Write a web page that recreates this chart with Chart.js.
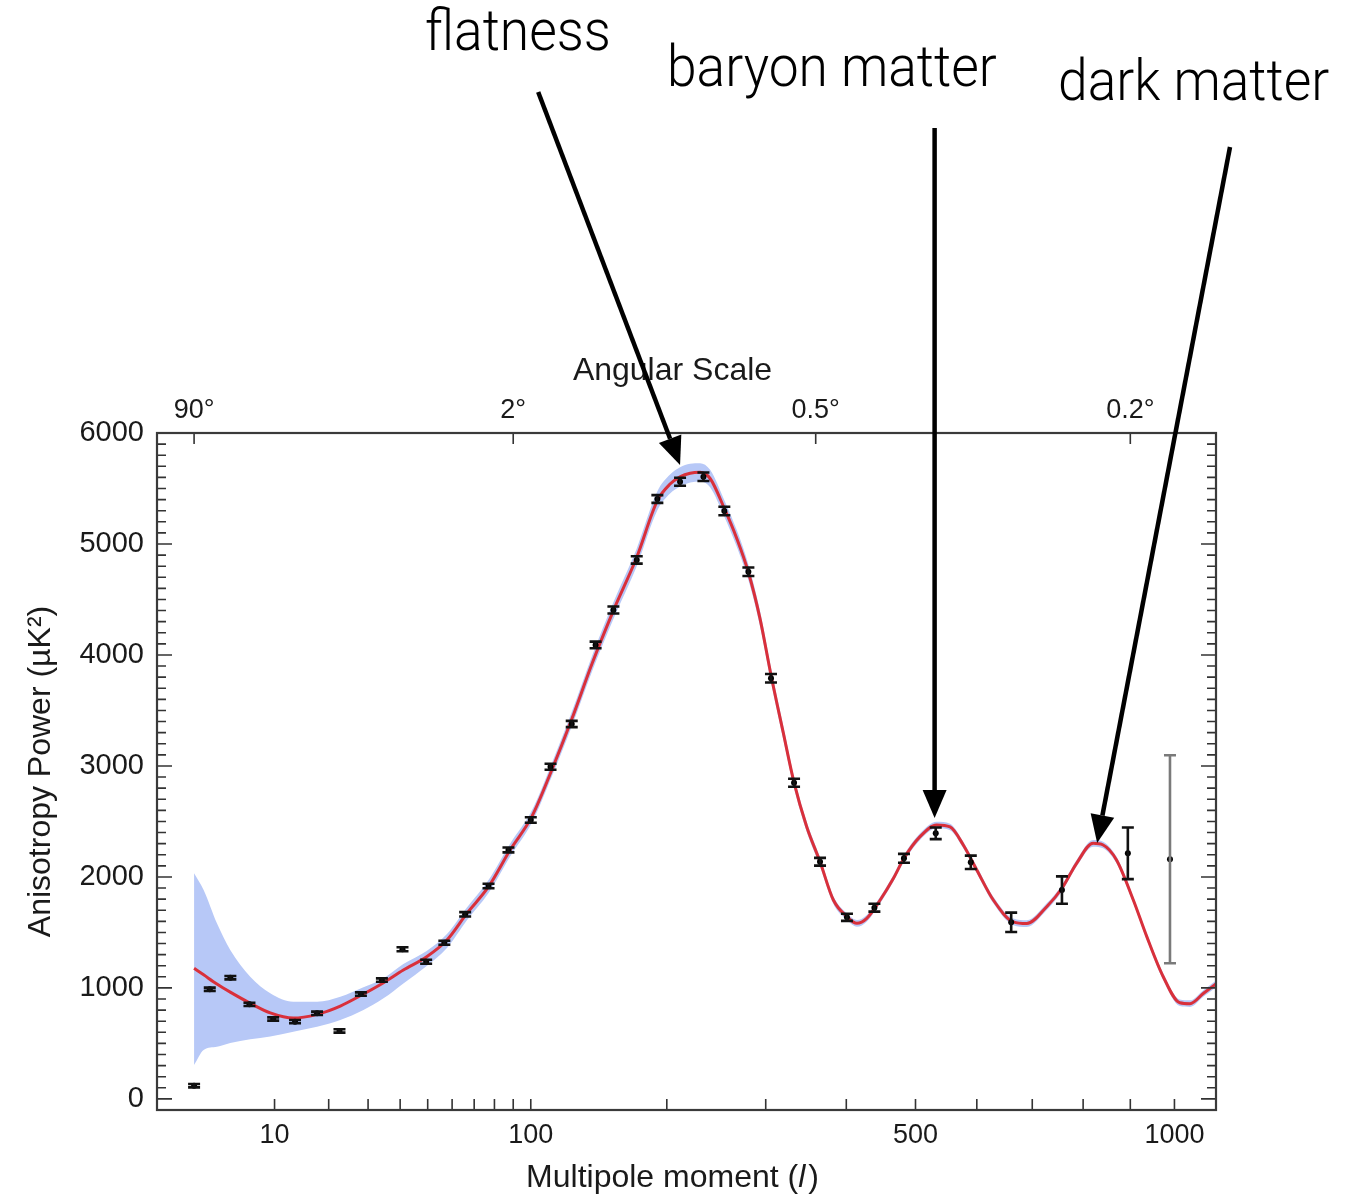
<!DOCTYPE html>
<html>
<head>
<meta charset="utf-8">
<script src="https://cdn.jsdelivr.net/npm/chart.js@4.4.1/dist/chart.umd.min.js"></script>
<style>
html,body{margin:0;padding:0;background:#ffffff;}
canvas{display:block;}
</style>
</head>
<body>
<canvas id="c" width="1356" height="1199"></canvas>
<script>
// ---------------- data ----------------
// theory curve: multipole moment l, power (µK²)
const curveL = [2, 2.58, 3.54, 4.69, 6.79, 9.38, 13.0, 17.5, 22.7, 28.7, 34.6, 41.1, 49.6, 57.8, 66.6, 77, 88.3,
  100.6, 112.8, 125.8, 140.2, 155.8, 174.3, 191.7, 202.9, 212, 221.4, 230.9, 240.8, 255.2, 268.2, 280.7, 293.5,
  306, 320.3, 333.2, 348.7, 365.5, 382.8, 400.9, 414.5, 428.2, 447.3, 466.7, 482.4, 507, 533.3, 555, 577, 599.9,
  628.8, 664.8, 689.7, 727.6, 757.4, 786.7, 820.6, 841.6, 870, 906.6, 936.6, 974, 1012.6, 1036.8, 1069.5, 1102];
const curveV = [1177, 1118, 1035, 962, 862, 775, 728, 762, 837, 945, 1047, 1161, 1281, 1432, 1672, 1912, 2243,
  2543, 2964, 3420, 3930, 4400, 4880, 5390, 5540, 5605, 5638, 5646, 5590, 5320, 5050, 4745, 4330,
  3820, 3300, 2850, 2453, 2137, 1792, 1642, 1582, 1627, 1792, 1988, 2168, 2363, 2468, 2450, 2288, 2063,
  1792, 1595, 1580, 1732, 1898, 2123, 2303, 2288, 2153, 1792, 1462, 1101, 866, 858, 952, 1042];
// cosmic-variance band edges at the same l
const bandHi = [2033, 1882, 1582, 1342, 1101, 952, 876, 876, 921, 1006, 1087, 1216, 1333, 1486, 1725, 1972, 2300,
  2598, 3024, 3485, 4000, 4475, 4960, 5475, 5625, 5692, 5722, 5728, 5668, 5395, 5125, 4815, 4398,
  3885, 3360, 2900, 2498, 2177, 1827, 1672, 1612, 1657, 1822, 2018, 2198, 2393, 2498, 2480, 2318, 2093,
  1822, 1625, 1610, 1762, 1928, 2153, 2333, 2318, 2183, 1822, 1492, 1131, 896, 888, 982, 1072];
const bandLo = [305, 441, 470, 504, 537, 562, 606, 651, 711, 801, 906, 1040, 1198, 1360, 1610, 1855, 2185,
  2488, 2904, 3355, 3860, 4325, 4800, 5305, 5455, 5518, 5554, 5564, 5512, 5245, 4975, 4675, 4262,
  3755, 3240, 2800, 2408, 2097, 1757, 1612, 1552, 1597, 1762, 1958, 2138, 2333, 2438, 2420, 2258, 2033,
  1762, 1565, 1550, 1702, 1868, 2093, 2273, 2258, 2123, 1762, 1432, 1071, 836, 828, 922, 1012];
// measured points
const pointL = [2, 3, 4.7, 6.7, 9.8, 13.3, 17.5, 22.5, 28, 34.1, 40.8, 49.4, 56.7, 65.8, 77, 87.4,
  100, 112, 125.8, 142.5, 155.8, 174.3, 191.7, 212, 234.2, 255.2, 280.7, 306, 333.2, 365.5, 400.9,
  439, 482.4, 531.8, 589.7, 660.9, 757.4, 894.6, 989.6];
const pointV = [119, 988, 1092, 852, 720, 696, 771, 612, 945, 1071, 1348, 1236, 1407, 1663, 1918, 2243,
  2513, 2993, 3378, 4090, 4405, 4856, 5405, 5561, 5606, 5297, 4750, 3790, 2849, 2137, 1636,
  1723, 2168, 2393, 2132, 1591, 1882, 2213, 2159];
const pointErr = [15, 15, 15, 15, 15, 15, 15, 15, 15, 15, 18, 18, 18, 20, 20, 22,
  25, 27, 28, 30, 32, 33, 35, 36, 38, 38, 38, 38, 36, 35, 32,
  36, 40, 52, 60, 87, 123, 233, 937];
// axes
const bottomTickL = [10, 20, 30, 40, 50, 60, 70, 80, 90, 100, 200, 300, 400, 500, 600, 700, 800, 900, 1000];
const bottomLabelL = [10, 100, 500, 1000];
const topTickL = [2, 90, 360, 900];
const topTickLabels = ['90°', '2°', '0.5°', '0.2°'];
const yMajorL = [0, 1000, 2000, 3000, 4000, 5000, 6000];
// annotations
const annotationText = ['flatness', 'baryon matter', 'dark matter'];
const annotationTipL = [212, 530, 829];
const annotationTipV = [5712, 2531, 2306];
const annotationTailL = [104.4, 530, 1135];
const annotationTailV = [9073, 8748, 8577];

// ---------------- power-law x scale ----------------
const EXPONENT = 0.4;
class PowerScale extends Chart.LinearScale {
  _tr(v) { return Math.pow(Math.max(v, 0), EXPONENT); }
  configure() {
    super.configure();
    this._pmin = this._tr(this.min);
    this._pmax = this._tr(this.max);
  }
  getPixelForValue(v) {
    if (v === null || v === undefined || isNaN(v)) return NaN;
    return this.getPixelForDecimal((this._tr(v) - this._pmin) / (this._pmax - this._pmin));
  }
  getValueForPixel(p) {
    const d = this.getDecimalForPixel(p);
    return Math.pow(this._pmin + d * (this._pmax - this._pmin), 1 / EXPONENT);
  }
}
PowerScale.id = 'power';
PowerScale.defaults = Chart.LinearScale.defaults;
Chart.register(PowerScale);

const FONT = '"Liberation Sans", Arial, Helvetica, sans-serif';
const INK = '#1a1a1a';

// ---------------- plugins ----------------
const errorBars = {
  id: 'errorBars',
  afterDatasetsDraw(chart) {
    const {ctx, scales: {x, y}} = chart;
    ctx.save();
    pointL.forEach((l, i) => {
      const last = i === pointL.length - 1;
      const px = x.getPixelForValue(l);
      const y1 = y.getPixelForValue(pointV[i] + pointErr[i]);
      const y2 = y.getPixelForValue(pointV[i] - pointErr[i]);
      ctx.strokeStyle = last ? '#7a7a7a' : '#111';
      ctx.lineWidth = 2.6;
      const hw = 6;
      ctx.beginPath();
      ctx.moveTo(px, y1); ctx.lineTo(px, y2);
      ctx.moveTo(px - hw, y1); ctx.lineTo(px + hw, y1);
      ctx.moveTo(px - hw, y2); ctx.lineTo(px + hw, y2);
      ctx.stroke();
    });
    ctx.restore();
  }
};

const frameAndNotes = {
  id: 'frameAndNotes',
  afterDraw(chart) {
    const {ctx, chartArea: a, scales} = chart;
    const {x, y, xTop} = scales;
    ctx.save();
    // inward tick marks
    ctx.strokeStyle = '#333';
    ctx.lineWidth = 1.6;
    ctx.beginPath();
    y.ticks.forEach(t => {
      if (t.value <= y.min || t.value >= y.max) return;
      const py = y.getPixelForValue(t.value);
      const len = yMajorL.includes(t.value) ? 15 : 9;
      ctx.moveTo(a.left, py); ctx.lineTo(a.left + len, py);
      ctx.moveTo(a.right, py); ctx.lineTo(a.right - len, py);
    });
    x.ticks.forEach(t => {
      const px = x.getPixelForValue(t.value);
      ctx.moveTo(px, a.bottom); ctx.lineTo(px, a.bottom - 11);
    });
    xTop.ticks.forEach(t => {
      const px = xTop.getPixelForValue(t.value);
      ctx.moveTo(px, a.top); ctx.lineTo(px, a.top + 11);
    });
    ctx.stroke();
    // frame
    ctx.lineWidth = 2.2;
    ctx.strokeStyle = '#3a3a3a';
    ctx.strokeRect(a.left, a.top, a.right - a.left, a.bottom - a.top);

    // axis titles
    const cx = (a.left + a.right) / 2 - 14;
    ctx.fillStyle = INK;
    ctx.textBaseline = 'middle';
    ctx.textAlign = 'center';
    ctx.font = '32px ' + FONT;
    ctx.fillText('Angular Scale', cx, a.top - 62);
    const parts = [['Multipole moment (', '32px ' + FONT, 0], ['l', 'italic 32px ' + FONT, 3], [')', '32px ' + FONT, 0]];
    let total = 0;
    parts.forEach(p => { ctx.font = p[1]; p.w = ctx.measureText(p[0]).width + p[2]; total += p.w; });
    let tx = cx - total / 2;
    ctx.textAlign = 'left';
    parts.forEach(p => { ctx.font = p[1]; ctx.fillText(p[0], tx, a.bottom + 68); tx += p.w; });
    ctx.save();
    ctx.translate(41, (a.top + a.bottom) / 2);
    ctx.rotate(-Math.PI / 2);
    ctx.textAlign = 'center';
    ctx.font = '32px ' + FONT;
    ctx.fillText('Anisotropy Power (µK²)', 0, 0);
    ctx.restore();

    // annotations with arrows (light, slightly condensed lettering)
    const AFONT = '"Roboto", "Lato", "Open Sans", sans-serif';
    const squeeze = 0.92;
    ctx.font = '300 100px ' + AFONT;
    const fs = 100 * 330 / (ctx.measureText('baryon matter').width * squeeze);
    ctx.font = '300 ' + fs.toFixed(1) + 'px ' + AFONT;
    ctx.fillStyle = '#000';
    ctx.textAlign = 'left';
    ctx.textBaseline = 'alphabetic';
    const textPos = [[425, 50], [667, 86], [1058, 100]];
    annotationText.forEach((s, i) => {
      ctx.save();
      ctx.translate(textPos[i][0], textPos[i][1]);
      ctx.scale(squeeze, 1);
      ctx.fillText(s, 0, 0);
      ctx.restore();
    });
    ctx.strokeStyle = '#000';
    ctx.lineWidth = 4.5;
    annotationText.forEach((s, i) => {
      const x1 = x.getPixelForValue(annotationTailL[i]), y1 = y.getPixelForValue(annotationTailV[i]);
      const x2 = x.getPixelForValue(annotationTipL[i]), y2 = y.getPixelForValue(annotationTipV[i]);
      const ang = Math.atan2(y2 - y1, x2 - x1);
      const hl = 28, hw = 12;
      const bx = x2 - hl * Math.cos(ang), by = y2 - hl * Math.sin(ang);
      ctx.beginPath();
      ctx.moveTo(x1, y1); ctx.lineTo(bx, by);
      ctx.stroke();
      ctx.beginPath();
      ctx.moveTo(x2, y2);
      ctx.lineTo(bx + hw * Math.sin(ang), by - hw * Math.cos(ang));
      ctx.lineTo(bx - hw * Math.sin(ang), by + hw * Math.cos(ang));
      ctx.closePath();
      ctx.fillStyle = '#000';
      ctx.fill();
    });
    ctx.restore();
  }
};

// ---------------- chart ----------------
const xy = (ls, vs) => ls.map((l, i) => ({x: l, y: vs[i]}));

new Chart(document.getElementById('c'), {
  type: 'line',
  data: {
    datasets: [
      {label: 'band upper', order: 4, data: xy(curveL, bandHi), borderWidth: 0, borderColor: 'rgba(0,0,0,0)',
        pointRadius: 0, fill: false, cubicInterpolationMode: 'monotone'},
      {label: 'band lower', order: 3, data: xy(curveL, bandLo), borderWidth: 0, borderColor: 'rgba(0,0,0,0)',
        pointRadius: 0, fill: '-1', backgroundColor: '#b7c8f7', cubicInterpolationMode: 'monotone'},
      {label: 'model', order: 2, data: xy(curveL, curveV), borderColor: '#d9303b', borderWidth: 3,
        pointRadius: 0, fill: false, cubicInterpolationMode: 'monotone'},
      {label: 'data', order: 1, data: xy(pointL, pointV), showLine: false, pointRadius: 3,
        pointBackgroundColor: '#000', pointBorderColor: '#000', borderColor: '#000', pointBorderWidth: 0}
    ]
  },
  options: {
    responsive: false,
    animation: false,
    events: [],
    layout: {padding: {left: 0, right: 140, top: 0, bottom: 0}},
    plugins: {legend: {display: false}, tooltip: {enabled: false}},
    scales: {
      x: {
        type: 'power', position: 'bottom', min: 0.52, max: 1100, bounds: 'data',
        grid: {display: false, drawTicks: false}, border: {display: false},
        afterBuildTicks: s => { s.ticks = bottomTickL.map(v => ({value: v})); },
        afterFit: s => { s.height = 89; },
        ticks: {
          autoSkip: false, maxRotation: 0, padding: 9, color: INK,
          font: {family: FONT, size: 27},
          callback: v => bottomLabelL.includes(v) ? String(v) : ''
        }
      },
      xTop: {
        type: 'power', position: 'top', min: 0.52, max: 1100, bounds: 'data',
        grid: {display: false, drawTicks: false}, border: {display: false},
        afterBuildTicks: s => { s.ticks = topTickL.map(v => ({value: v})); },
        afterFit: s => { s.height = 433; },
        ticks: {
          autoSkip: false, maxRotation: 0, padding: 6, color: INK,
          font: {family: FONT, size: 27},
          callback: v => topTickLabels[topTickL.indexOf(v)] || ''
        }
      },
      y: {
        type: 'linear', position: 'left', min: -100, max: 6000,
        grid: {display: false, drawTicks: false}, border: {display: false},
        afterFit: s => { s.width = 157; },
        ticks: {
          stepSize: 100, autoSkip: false, padding: 13, color: INK,
          font: {family: FONT, size: 29},
          callback: v => yMajorL.includes(v) ? String(v) : ''
        }
      }
    }
  },
  plugins: [errorBars, frameAndNotes]
});
</script>
</body>
</html>
